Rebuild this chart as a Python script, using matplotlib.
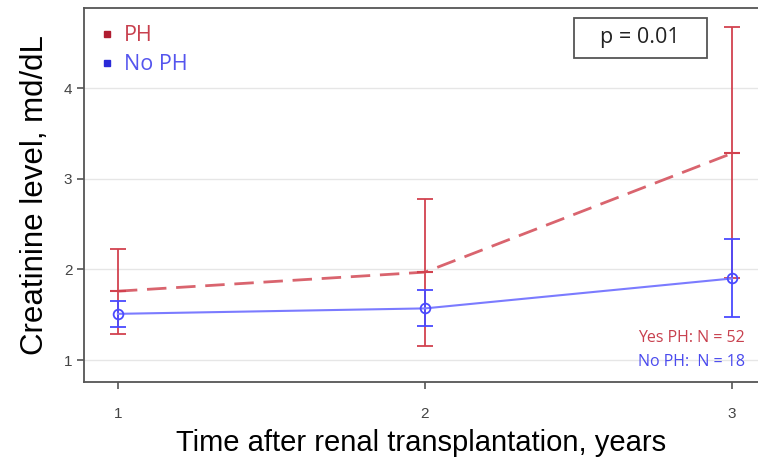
import matplotlib.pyplot as plt
from matplotlib.patches import Rectangle

years = [1, 2, 3]
ph_mean = [1.76, 1.97, 3.28]
ph_low = [1.29, 1.15, 1.90]
ph_high = [2.23, 2.78, 4.67]
noph_mean = [1.51, 1.57, 1.90]
noph_low = [1.37, 1.38, 1.48]
noph_high = [1.65, 1.77, 2.34]
yticks = [1, 2, 3, 4]

red_line = "#d9646e"
red_bar = "#d2424f"
blue_line = "#7b7bff"
blue_bar = "#4a4aff"
calibri_like = ['Open Sans', 'DejaVu Sans']

plt.rcParams['font.family'] = ['Liberation Sans', 'DejaVu Sans']

fig = plt.figure(figsize=(7.58, 4.66), dpi=100)
ax = fig.add_axes([0.111, 0.180, 0.889, 0.803])

ph_err = [[m - l for m, l in zip(ph_mean, ph_low)], [h - m for m, h in zip(ph_mean, ph_high)]]
noph_err = [[m - l for m, l in zip(noph_mean, noph_low)], [h - m for m, h in zip(noph_mean, noph_high)]]

ax.errorbar(years, ph_mean, yerr=ph_err, fmt='none', ecolor=red_bar, elinewidth=1.3,
            capsize=6, capthick=1.3, zorder=3)
ax.plot(years, ph_mean, color=red_line, lw=2, dashes=(7, 3.5), zorder=3)
# small tick at each PH mean
ax.plot(years, ph_mean, ls='none', marker='_', ms=12, mew=1.5, color=red_bar, zorder=3)

ax.errorbar(years, noph_mean, yerr=noph_err, fmt='none', ecolor=blue_bar, elinewidth=1.3,
            capsize=5.5, capthick=1.3, zorder=4)
ax.plot(years, noph_mean, color=blue_line, lw=1.5, marker='o', ms=7, mfc='none',
        mec=blue_bar, mew=1.3, zorder=4)

ax.set_xlim(0.89, 3.085)
ax.set_ylim(0.757, 4.884)
ax.set_xticks(years)
ax.set_yticks(yticks)
ax.tick_params(colors='#555555', labelsize=11, length=5, width=1.2)
ax.tick_params(axis='x', pad=13)
for lbl in ax.get_xticklabels() + ax.get_yticklabels():
    lbl.set_color('#444444')
ax.grid(axis='y', color='#e6e6e6', lw=1)
ax.set_axisbelow(True)
for s in ['left', 'bottom', 'top']:
    ax.spines[s].set_color('#555555')
    ax.spines[s].set_linewidth(1.3)
ax.spines['right'].set_visible(False)

ax.set_xlabel("Time after renal transplantation, years", fontsize=21, labelpad=6)
ax.set_ylabel("Creatinine level, md/dL", fontsize=22.5, labelpad=10)

# legend
ax.plot([0.965], [4.6], ls='none', marker='s', ms=4.5, color='#b01c30')
ax.plot([0.965], [4.28], ls='none', marker='s', ms=4.5, color='#2a2ad8')
ax.text(1.02, 4.58, "PH", color='#c8404e', fontsize=15.5, va='center', family=calibri_like)
ax.text(1.02, 4.26, "No PH", color='#5555ee', fontsize=15.5, va='center', family=calibri_like)

# p-value box
ax.add_patch(Rectangle((2.486, 4.332), 0.433, 0.442, fc='white', ec='#555555', lw=1.3, zorder=5))
ax.text(2.70, 4.553, "p = 0.01", fontsize=15.5, ha='center', va='center', color='#222222',
        family=calibri_like, zorder=6)

ax.text(3.043, 1.242, "Yes PH: N = 52", color='#c8404e', fontsize=11.5, ha='right', va='center',
        family=calibri_like)
ax.text(3.043, 0.977, "No PH:  N = 18", color='#4a4aee', fontsize=11.5, ha='right', va='center',
        family=calibri_like)

fig.savefig("out.png", dpi=100)
